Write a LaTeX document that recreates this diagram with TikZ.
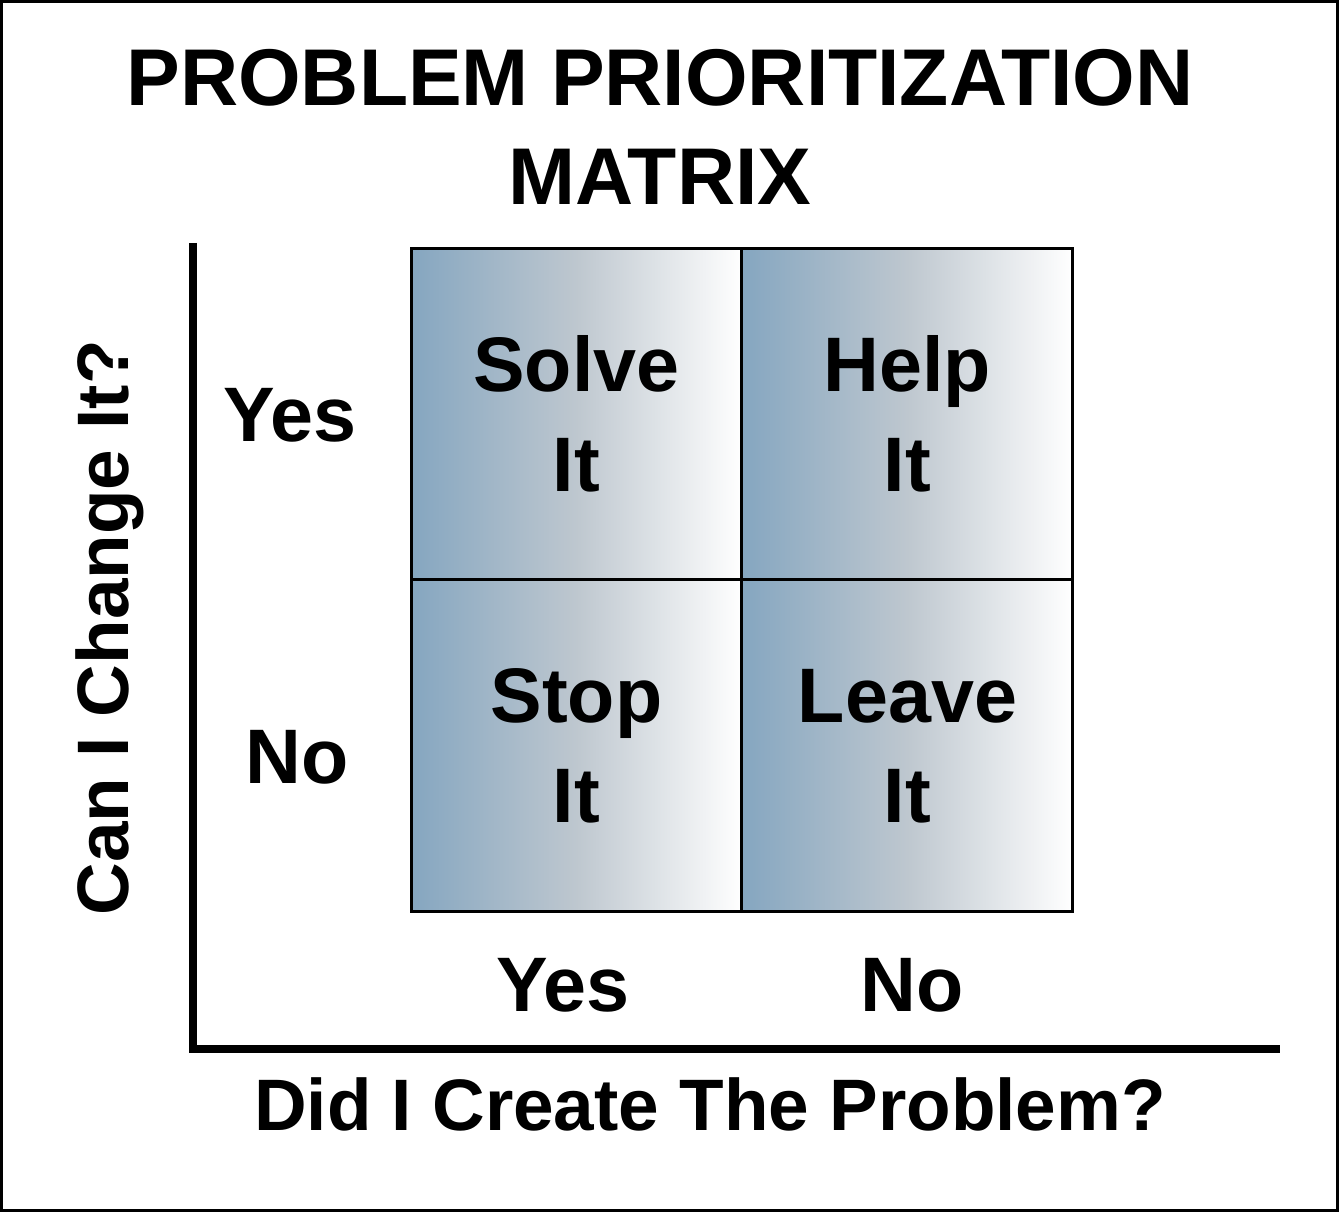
\documentclass[tikz,border=0pt]{standalone}
\usepackage{fontspec}
\setmainfont{Liberation Sans}
\usepackage{tikz}
\usetikzlibrary{positioning}

\definecolor{cellblue}{RGB}{133,166,192}
\definecolor{cellgray}{RGB}{190,199,207}

\begin{document}
\begin{tikzpicture}[x=0.02cm,y=-0.02cm,node distance=0pt,
    cell node/.style={rectangle,draw,line width=1.7pt,outer sep=0pt,inner sep=0pt,
        minimum width=6.62cm,minimum height=6.64cm,left color=cellblue,right color=white,middle color=cellgray,
        align=center,font=\fontsize{44}{57}\selectfont\bfseries},
    tick node/.style={font=\fontsize{44}{53}\selectfont\bfseries},
    axis node/.style={font=\fontsize{41.5}{50}\selectfont\bfseries}]
        \useasboundingbox (0,0) rectangle (1339,1212);
        \draw[line width=1.7pt] (1.5,1.5) rectangle (1337.5,1210.5);

        \node[align=center,font=\fontsize{45.8}{56}\selectfont\bfseries] (title) at (660,127) {PROBLEM PRIORITIZATION\\MATRIX};

        \node[cell node] (1) at (576.5,414) {Solve\\It};
        \node[cell node] (2) [right=of 1] {Help\\It};
        \node[cell node] (3) [below=of 1] {Stop\\It};
        \node[cell node] (4) [below=of 2] {Leave\\It};

        \node[tick node] (y1) at (290,415) {Yes};
        \node[tick node] (y2) at (297,757) {No};
        \node[tick node] (x1) at (563,985) {Yes};
        \node[tick node] (x2) at (912,985) {No};

        \coordinate (top) at (193,243);
        \coordinate (origin) at (193,1049);
        \coordinate (end) at (1280,1049);
        \draw[line width=5.1pt] (top) -- (origin) -- (end);

        \node[axis node] (xlabel) at (710,1104) {Did I Create The Problem?};
        \node[axis node,rotate=90] (ylabel) at (110,628) {Can I Change It?};
    \end{tikzpicture}
\end{document}
